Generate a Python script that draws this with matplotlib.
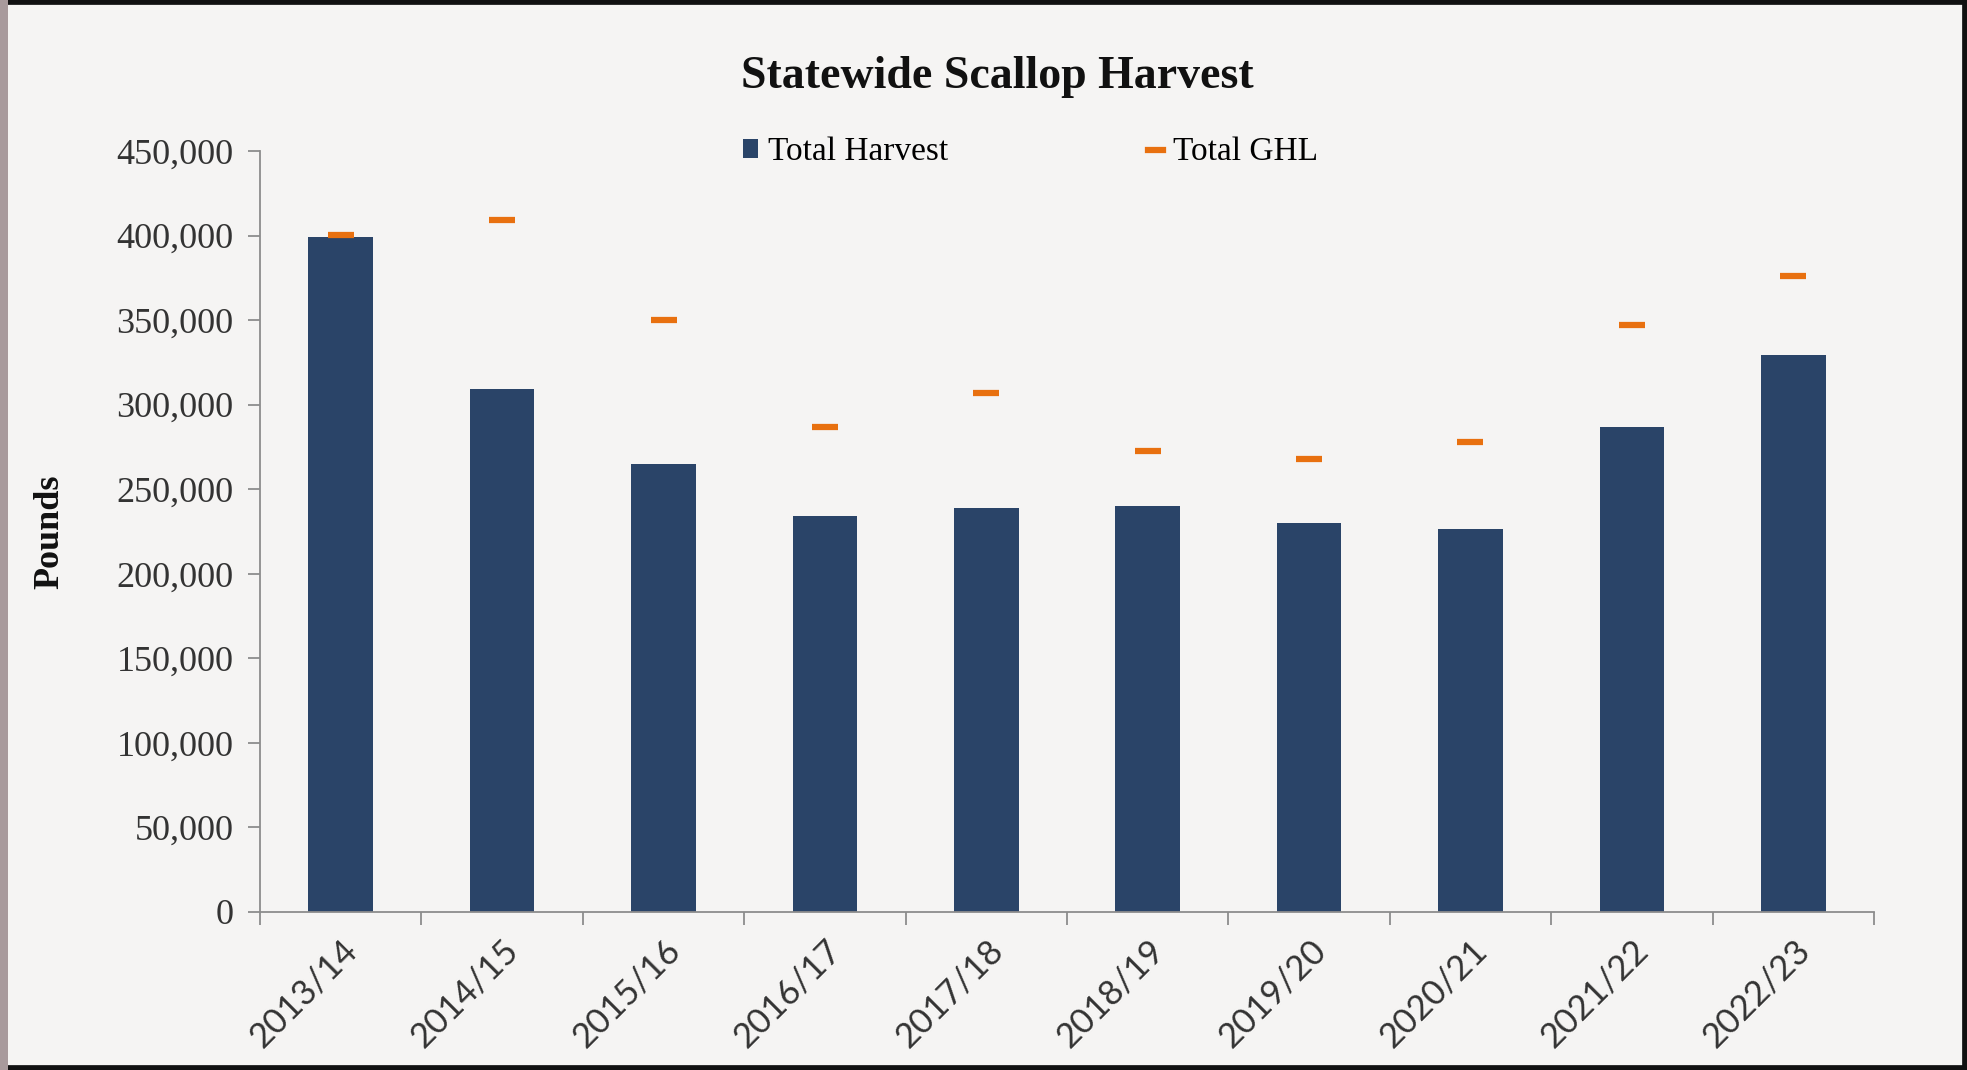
import numpy as np
import matplotlib
matplotlib.use("Agg")
import matplotlib.pyplot as plt
from matplotlib.patches import Patch, Rectangle
from matplotlib.lines import Line2D
from matplotlib.ticker import FuncFormatter

# data
seasons = ["2013/14", "2014/15", "2015/16", "2016/17", "2017/18",
           "2018/19", "2019/20", "2020/21", "2021/22", "2022/23"]
total_harvest = [399000, 309000, 265000, 234000, 239000,
                 240000, 230000, 226500, 286500, 329500]
total_ghl = [400500, 409000, 350000, 287000, 307000,
             272500, 268000, 278000, 347000, 376000]

bar_color = "#2a4468"
ghl_color = "#e8700f"
bg_color = "#f5f4f3"
serif = ["Liberation Serif", "DejaVu Serif"]
sans = ["Lato", "DejaVu Sans"]

fig = plt.figure(figsize=(19.67, 10.70), dpi=100, facecolor=bg_color)
ax = fig.add_axes([0.1322, 0.1477, 0.8205, 0.7112])
ax.set_facecolor(bg_color)

x = np.arange(len(seasons))
ax.bar(x, total_harvest, width=0.4, color=bar_color, zorder=2)
ax.plot(x, total_ghl, linestyle="none", marker="_", ms=19, mew=4.5,
        color=ghl_color, zorder=3)

ax.set_xlim(-0.5, len(seasons) - 0.5)
ax.set_ylim(0, 450000)
ax.set_yticks(np.arange(0, 450001, 50000))
ax.yaxis.set_major_formatter(FuncFormatter(lambda v, p: f"{int(v):,}"))

# category boundary ticks, labels sit on minor ticks at the centres
ax.set_xticks(np.arange(-0.5, len(seasons), 1.0))
ax.set_xticklabels([])
ax.set_xticks(x, minor=True)
ax.set_xticklabels(seasons, minor=True, rotation=45, ha="right",
                   rotation_mode="anchor", family=sans, fontsize=25,
                   color="#333333")
ax.tick_params(axis="x", which="minor", length=0, pad=16)
ax.tick_params(axis="x", which="major", length=9, width=1.3, color="#8c8c8c",
               direction="out")
ax.tick_params(axis="y", length=9, width=1.3, color="#8c8c8c", pad=10,
               labelsize=26, labelcolor="#333333")
for lab in ax.get_yticklabels():
    lab.set_family(serif)

for s in ["top", "right"]:
    ax.spines[s].set_visible(False)
for s in ["left", "bottom"]:
    ax.spines[s].set_color("#8c8c8c")
    ax.spines[s].set_linewidth(1.3)

ax.set_ylabel("Pounds", family=serif, fontsize=26, fontweight="bold",
              color="#111111")
ax.yaxis.set_label_coords(-0.12, 0.5)

fig.text(0.507, 0.928, "Statewide Scallop Harvest", family=serif,
         fontsize=33, fontweight="bold", ha="center", va="center",
         color="#111111")

handles = [Patch(facecolor=bar_color, edgecolor="none"),
           Line2D([], [], color=ghl_color, lw=4.5)]
fig.legend(handles, ["Total Harvest", "Total GHL"], loc="center",
           bbox_to_anchor=(0.524, 0.858), ncol=2, frameon=False,
           prop={"family": serif, "size": 24}, handlelength=0.45,
           handleheight=0.5, handletextpad=0.3, columnspacing=6.0)

# dark frame around the slide
fig.patches.append(Rectangle((0, 0), 1, 1, transform=fig.transFigure,
                             fill=False, edgecolor="#111111", lw=7))
fig.patches.append(Rectangle((0, 0), 0.004, 1, transform=fig.transFigure,
                             facecolor="#a89a9c", edgecolor="none"))

fig.savefig("out.png", dpi=100, facecolor=bg_color)
